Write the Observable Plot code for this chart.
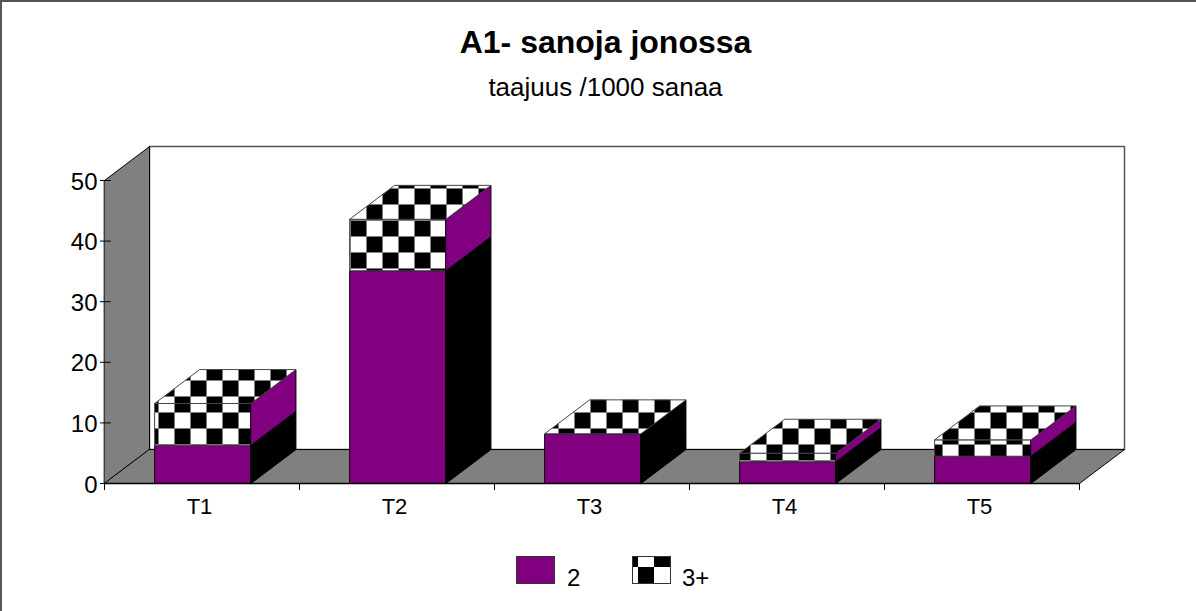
<!DOCTYPE html>
<html><head><meta charset="utf-8">
<script src="https://cdn.jsdelivr.net/npm/d3@7"></script>
<script src="https://cdn.jsdelivr.net/npm/@observablehq/plot@0.6"></script>
<style>
html,body{margin:0;padding:0;background:#fff;}
#page{position:relative;width:1196px;height:611px;overflow:hidden;font-family:"Liberation Sans",Arial,sans-serif;color:#000;}
#frame{position:absolute;left:0;top:0;width:1196px;height:611px;box-sizing:border-box;border-left:2px solid #555;border-top:2px solid #555;pointer-events:none;}
#head{height:125px;text-align:center;position:relative;}
#title{position:absolute;left:0;width:1211px;top:25px;font-size:32px;font-weight:bold;line-height:34px;}
#subtitle{position:absolute;left:0;width:1211px;top:74px;font-size:26px;line-height:26px;}
#chart svg{display:block;}
#legend{position:relative;height:66px;}
.sw{position:absolute;top:11px;width:39px;height:28px;box-sizing:border-box;border:1px solid #333;}
.lb{position:absolute;top:21px;font-size:24px;line-height:24px;}
</style></head><body>
<div id="page">
<div id="head"><div id="title">A1- sanoja jonossa</div><div id="subtitle">taajuus /1000 sanaa</div></div>
<div id="chart"></div>
<div id="legend">
<div class="sw" style="left:516px;background:#800080"></div><div class="lb" style="left:567px">2</div>
<div class="sw" style="left:632px;background:conic-gradient(#fff 0 25%,#000 0 50%,#fff 0 75%,#000 0);background-size:32px 32px;background-position:5px 10px"></div><div class="lb" style="left:682px">3+</div>
</div>
<div id="frame"></div>
</div>
<script>
const categories = ["T1","T2","T3","T4","T5"];
const series2 = [6.3, 35.1, 8.2, 3.6, 4.5];
const series3plus = [6.9, 8.5, 0, 1.4, 2.7];
const yTicks = [0,10,20,30,40,50];

const headH = 125;
const PURPLE="#800080", GRAY="#808080", EDGE="#444";
const CHECK="url(#check3d)";
// Scale-unit geometry of the pseudo-3D box
const depthX = 0.2308, depthY = 5.6;   // oblique depth
const barPad = 0.259, barW = 0.492;

const poly = (pts, fill, stroke="#000", sw=1) =>
  Plot.line(pts.map(([x,y])=>({x,y})), {x:"x", y:"y", fill, stroke, strokeWidth:sw, curve:"linear-closed"});
const box = (x0, yLo, yHi, frontFill, sideFill, withTop) => {
  const x1 = x0 + barW, marks = [];
  const frontStroke = frontFill === CHECK ? EDGE : "#000";
  if (yHi > yLo) {
    marks.push(poly([[x0,yLo],[x1,yLo],[x1,yHi],[x0,yHi]], frontFill, frontStroke));
    marks.push(poly([[x1,yLo],[x1+depthX,yLo+depthY],[x1+depthX,yHi+depthY],[x1,yHi]], sideFill));
  }
  if (withTop) marks.push(poly([[x0,yHi],[x1,yHi],[x1+depthX,yHi+depthY],[x0+depthX,yHi+depthY]], CHECK, EDGE));
  return marks;
};

const yMax = 50, n = categories.length;
const marks = [
  // back wall, left wall, floor
  poly([[depthX,depthY],[n+depthX,depthY],[n+depthX,yMax+depthY],[depthX,yMax+depthY]], "#fff", "#555", 1.5),
  poly([[0,0],[depthX,depthY],[depthX,yMax+depthY],[0,yMax]], GRAY),
  poly([[0,0],[n,0],[n+depthX,depthY],[depthX,depthY]], GRAY),
];
categories.forEach((c,i)=>{
  const x0 = i + barPad, a = series2[i], b = a + series3plus[i];
  marks.push(...box(x0,0,a,PURPLE,"#000",false));
  marks.push(...box(x0,a,b,CHECK,PURPLE,true));
});
marks.push(
  Plot.ruleY(yTicks,{x1:-0.0205,x2:0.035,stroke:"#000"}),
  Plot.ruleY([0],{x1:0,x2:n,stroke:"#000",strokeWidth:1.5}),
  Plot.axisY({ticks:yTicks,tickSize:0,tickPadding:7,label:null,fontSize:24,anchor:"left",dy:1.5,stroke:"#000"}),
  Plot.axisX({ticks:d3.range(n+1),tickSize:7,tickFormat:()=>"",label:null,anchor:"bottom",stroke:"#000"}),
  Plot.text(categories,{x:(d,i)=>i+0.5,y:()=>0,dy:23,dx:-2.5,text:d=>d,fontSize:22,fill:"#000"})
);

const plot = Plot.plot({
  width:1196, height:420,
  marginTop:180-headH, marginRight:1196-1079, marginBottom:125+420-483, marginLeft:104,
  style:{fontFamily:'"Liberation Sans",Arial,sans-serif',background:"transparent",color:"#000"},
  x:{domain:[0,n],axis:null},
  y:{domain:[0,yMax],axis:null},
  marks
});
const defs = d3.select(plot).insert("defs",":first-child");
const pat = defs.append("pattern").attr("id","check3d").attr("patternUnits","userSpaceOnUse")
  .attr("x",350).attr("y",220-headH).attr("width",32).attr("height",32);
pat.append("rect").attr("width",32).attr("height",32).attr("fill","#fff");
pat.append("rect").attr("width",16).attr("height",16).attr("fill","#000");
pat.append("rect").attr("x",16).attr("y",16).attr("width",16).attr("height",16).attr("fill","#000");
document.getElementById("chart").appendChild(plot);
</script>
</body></html>
